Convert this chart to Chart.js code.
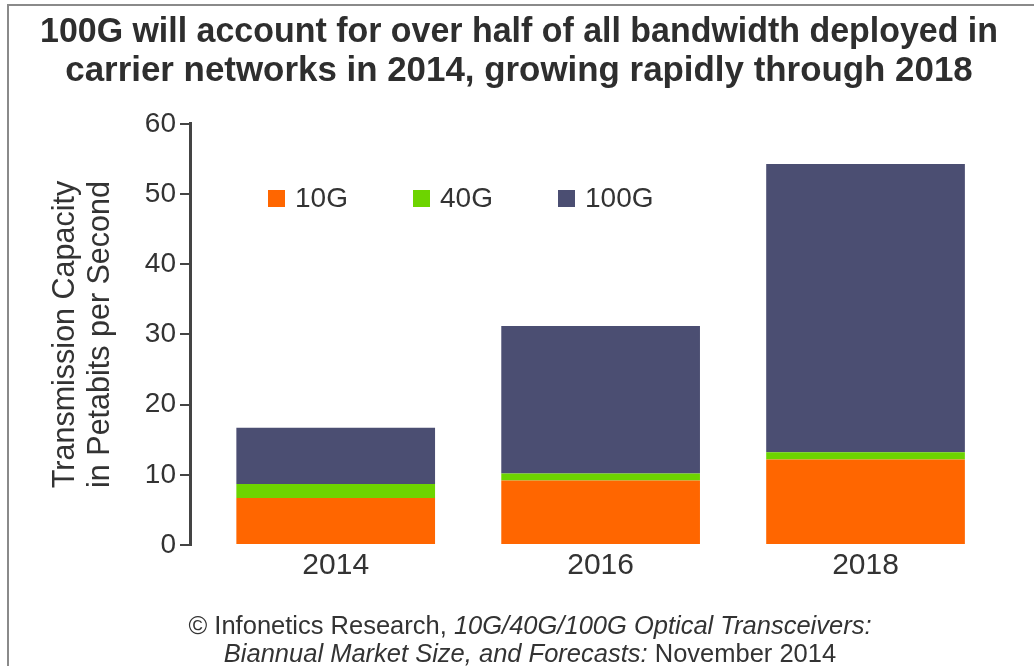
<!DOCTYPE html>
<html>
<head>
<meta charset="utf-8">
<script src="https://cdn.jsdelivr.net/npm/chart.js@4.4.1/dist/chart.umd.min.js"></script>
<style>
  body { margin: 0; background: #fff; overflow: hidden; font-family: "Liberation Sans", Arial, sans-serif; }
  #wrap { position: relative; width: 1034px; height: 666px; overflow: hidden; }
  #frame { position: absolute; left: 7px; top: 4px; width: 1040px; height: 700px; border: 2px solid #8a8a8a; }
  #chart { position: absolute; left: 0; top: 0; }
  #legend { position: absolute; left: 268px; top: 182px; display: flex; }
  #legend .item { width: 145px; display: flex; align-items: center; font-size: 28px; color: #333; }
  #legend .box { width: 17px; height: 17px; margin-right: 10px; }
  #footer { position: absolute; left: 0; width: 1060px; top: 611px; text-align: center; font-size: 25.5px; line-height: 28px; color: #333; }
</style>
</head>
<body>
<div id="wrap">
  <div id="frame"></div>
  <canvas id="chart" width="1034" height="666"></canvas>
  <div id="legend"></div>
  <div id="footer">© Infonetics Research, <i>10G/40G/100G Optical Transceivers:</i><br><i>Biannual Market Size, and Forecasts:</i> November 2014</div>
</div>
<script>
// values (petabits per second)
var years = [2014, 2016, 2018]
var g10 = [6.7, 9.2, 12.2]
var g40 = [2.0, 1.0, 1.0]
var g100 = [8.0, 21.0, 41.1]
var yTicks = [0, 10, 20, 30, 40, 50, 60]

function pts(vals) {
  return years.map(function (y, i) { return { x: y, y: vals[i] } })
}

var chart = new Chart(document.getElementById("chart"), {
  type: 'bar',
  data: {
    datasets: [
      { label: "10G", data: pts(g10), backgroundColor: "#FF6600" },
      { label: "40G", data: pts(g40), backgroundColor: "#6DD400" },
      { label: "100G", data: pts(g100), backgroundColor: "#4B4E72" }
    ]
  },
  options: {
    responsive: false,
    animation: false,
    barPercentage: 0.75,
    categoryPercentage: 1,
    layout: { padding: { left: 40, right: 36, top: 0, bottom: 79 } },
    plugins: {
      legend: { display: false },
      tooltip: { enabled: false },
      title: {
        display: true,
        text: ["100G will account for over half of all bandwidth deployed in",
               "carrier networks in 2014, growing rapidly through 2018"],
        color: "#2e2e2e",
        font: { family: "'Liberation Sans', Arial", size: 34.9, weight: 'bold', lineHeight: 1.117 },
        padding: { top: 13, bottom: 33 }
      }
    },
    scales: {
      x: {
        type: 'linear',
        stacked: true,
        offset: false,
        min: 2012.9,
        max: 2019.0,
        afterBuildTicks: function (axis) {
          axis.ticks = years.map(function (v) { return { value: v } })
        },
        grid: { display: false, drawTicks: false, tickLength: 0 },
        border: { display: false },
        ticks: {
          color: "#333",
          padding: 3,
          font: { family: "'Liberation Sans', Arial", size: 30 },
          callback: function (v) { return String(v) }
        }
      },
      y: {
        stacked: true,
        min: 0,
        max: 60,
        afterBuildTicks: function (axis) {
          axis.ticks = yTicks.map(function (v) { return { value: v } })
        },
        afterFit: function (axis) { axis.width = 150 },
        grid: { drawOnChartArea: false, drawTicks: true, tickLength: 10, color: "#444", lineWidth: 2 },
        border: { display: true, color: "#444", width: 3 },
        ticks: {
          color: "#333",
          padding: 4,
          font: { family: "'Liberation Sans', Arial", size: 28 }
        },
        title: {
          display: true,
          text: ["Transmission Capacity", "in Petabits per Second"],
          color: "#333",
          font: { family: "'Liberation Sans', Arial", size: 30.5, lineHeight: 1.15 },
          padding: { top: 8, bottom: 0 }
        }
      }
    }
  }
});

// html legend built from the datasets
var legend = document.getElementById("legend")
chart.data.datasets.forEach(function (ds) {
  var item = document.createElement("div")
  item.className = "item"
  var box = document.createElement("span")
  box.className = "box"
  box.style.background = ds.backgroundColor
  item.appendChild(box)
  item.appendChild(document.createTextNode(ds.label))
  legend.appendChild(item)
})
</script>
</body>
</html>
